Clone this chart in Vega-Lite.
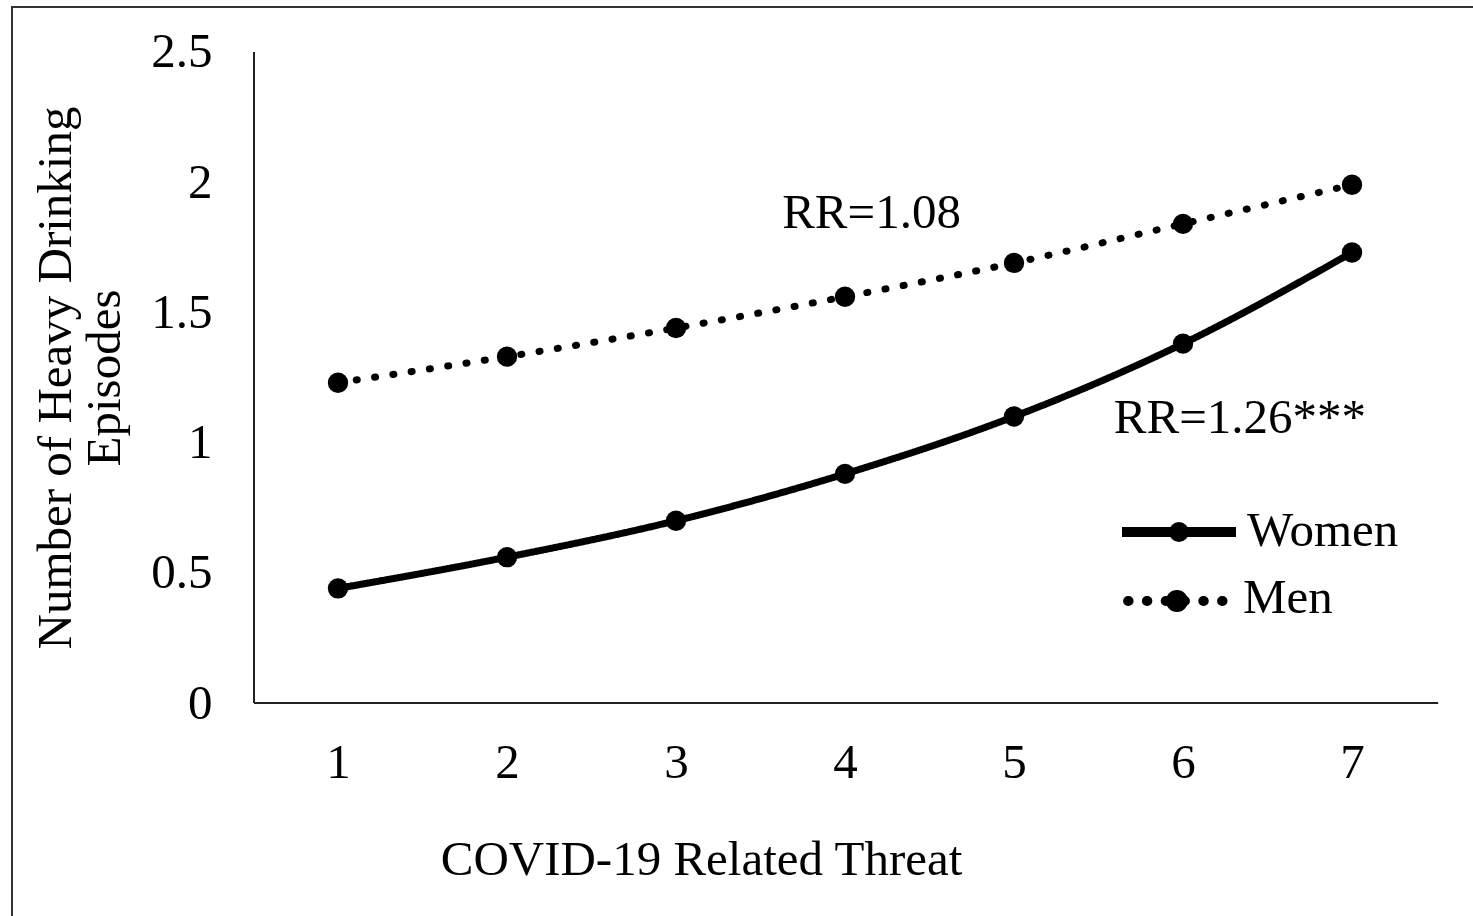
{
  "$schema": "https://vega.github.io/schema/vega-lite/v6.json",
  "width": 1468,
  "height": 913,
  "autosize": {"type": "none"},
  "padding": {"left": 12, "top": 7, "right": -7, "bottom": -4},
  "background": "white",
  "data": {
    "values": [
      {"threat": 1, "series": "Women", "value": 0.44},
      {"threat": 2, "series": "Women", "value": 0.56},
      {"threat": 3, "series": "Women", "value": 0.70},
      {"threat": 4, "series": "Women", "value": 0.88},
      {"threat": 5, "series": "Women", "value": 1.10},
      {"threat": 6, "series": "Women", "value": 1.38},
      {"threat": 7, "series": "Women", "value": 1.73},
      {"threat": 1, "series": "Men", "value": 1.23},
      {"threat": 2, "series": "Men", "value": 1.33},
      {"threat": 3, "series": "Men", "value": 1.44},
      {"threat": 4, "series": "Men", "value": 1.56},
      {"threat": 5, "series": "Men", "value": 1.69},
      {"threat": 6, "series": "Men", "value": 1.84},
      {"threat": 7, "series": "Men", "value": 1.99}
    ]
  },
  "layer": [
    {
      "mark": {"type": "line", "interpolate": "monotone", "strokeWidth": 7, "strokeCap": "round", "color": "black"},
      "encoding": {
        "x": {
          "field": "threat", "type": "quantitative",
          "scale": {"domain": [-0.92899, 7.7574], "nice": false, "zero": false},
          "axis": {
            "title": "COVID-19 Related Threat",
            "values": [1, 2, 3, 4, 5, 6, 7],
            "format": "d",
            "offset": -217,
            "labelPadding": 74,
            "labelBaseline": "alphabetic",
            "titleX": 689,
            "titleY": 171,
            "titleAlign": "center",
            "titleBaseline": "alphabetic"
          }
        },
        "y": {
          "field": "value", "type": "quantitative",
          "scale": {"domain": [-0.83333, 2.67281], "nice": false, "zero": false},
          "axis": {
            "title": ["Number of Heavy Drinking", "Episodes"],
            "values": [0, 0.5, 1, 1.5, 2, 2.5],
            "format": "~g",
            "offset": -242,
            "labelPadding": 42,
            "labelBaseline": "middle",
            "titleX": -184,
            "titleY": 370.5,
            "titleAngle": 270,
            "titleAlign": "center",
            "titleBaseline": "alphabetic",
            "titleLineHeight": 49
          }
        },
        "strokeDash": {
          "field": "series", "type": "nominal",
          "scale": {"domain": ["Women", "Men"], "range": [[1, 0], [1, 17.5]]},
          "legend": null
        }
      }
    },
    {
      "mark": {"type": "circle", "size": 415, "color": "black", "opacity": 1},
      "encoding": {
        "x": {"field": "threat", "type": "quantitative"},
        "y": {"field": "value", "type": "quantitative"}
      }
    },
    {
      "data": {"values": [{}]},
      "mark": {"type": "rule", "color": "#222222", "strokeWidth": 2},
      "encoding": {
        "x": {"datum": 0.503, "type": "quantitative"},
        "y": {"datum": 0, "type": "quantitative"},
        "y2": {"datum": 2.5}
      }
    },
    {
      "data": {"values": [{}]},
      "mark": {"type": "rule", "color": "#222222", "strokeWidth": 2},
      "encoding": {
        "x": {"datum": 0.503, "type": "quantitative"},
        "x2": {"datum": 7.51},
        "y": {"datum": 0, "type": "quantitative"}
      }
    },
    {
      "data": {"values": [{}]},
      "mark": {"type": "rule", "color": "black", "strokeWidth": 10, "strokeCap": "butt"},
      "encoding": {
        "x": {"datum": 5.639, "type": "quantitative"},
        "x2": {"datum": 6.3136},
        "y": {"datum": 0.6567, "type": "quantitative"}
      }
    },
    {
      "data": {"values": [{}]},
      "mark": {"type": "circle", "size": 400, "color": "black", "opacity": 1},
      "encoding": {
        "x": {"datum": 5.976, "type": "quantitative"},
        "y": {"datum": 0.6567, "type": "quantitative"}
      }
    },
    {
      "data": {"values": [{}]},
      "mark": {"type": "text", "font": "Liberation Serif", "fontSize": 49, "align": "left", "baseline": "alphabetic", "color": "black"},
      "encoding": {
        "x": {"datum": 6.379, "type": "quantitative"},
        "y": {"datum": 0.6029, "type": "quantitative"},
        "text": {"value": "Women"}
      }
    },
    {
      "data": {"values": [{}]},
      "mark": {"type": "rule", "color": "black", "strokeWidth": 10, "strokeCap": "round", "strokeDash": [0.5, 18.3]},
      "encoding": {
        "x": {"datum": 5.675, "type": "quantitative"},
        "x2": {"datum": 6.234},
        "y": {"datum": 0.3917, "type": "quantitative"}
      }
    },
    {
      "data": {"values": [{}]},
      "mark": {"type": "circle", "size": 490, "color": "black", "opacity": 1},
      "encoding": {
        "x": {"datum": 5.964, "type": "quantitative"},
        "y": {"datum": 0.3917, "type": "quantitative"}
      }
    },
    {
      "data": {"values": [{}]},
      "mark": {"type": "text", "font": "Liberation Serif", "fontSize": 49, "align": "left", "baseline": "alphabetic", "color": "black"},
      "encoding": {
        "x": {"datum": 6.355, "type": "quantitative"},
        "y": {"datum": 0.3456, "type": "quantitative"},
        "text": {"value": "Men"}
      }
    },
    {
      "data": {"values": [{}]},
      "mark": {"type": "text", "font": "Liberation Serif", "fontSize": 49, "align": "center", "baseline": "alphabetic", "color": "black"},
      "encoding": {
        "x": {"datum": 4.157, "type": "quantitative"},
        "y": {"datum": 1.824, "type": "quantitative"},
        "text": {"value": "RR=1.08"}
      }
    },
    {
      "data": {"values": [{}]},
      "mark": {"type": "text", "font": "Liberation Serif", "fontSize": 49, "align": "center", "baseline": "alphabetic", "color": "black"},
      "encoding": {
        "x": {"datum": 6.337, "type": "quantitative"},
        "y": {"datum": 1.037, "type": "quantitative"},
        "text": {"value": "RR=1.26***"}
      }
    }
  ],
  "config": {
    "font": "Liberation Serif",
    "view": {"stroke": "#333333", "strokeWidth": 2},
    "axis": {
      "domain": false,
      "ticks": false,
      "tickSize": 0,
      "grid": false,
      "labelFont": "Liberation Serif",
      "labelFontSize": 49,
      "labelColor": "black",
      "titleFont": "Liberation Serif",
      "titleFontSize": 49,
      "titleFontWeight": "normal",
      "titleColor": "black",
      "labelOverlap": false,
      "labelFlush": false,
      "labelBound": false
    }
  }
}
